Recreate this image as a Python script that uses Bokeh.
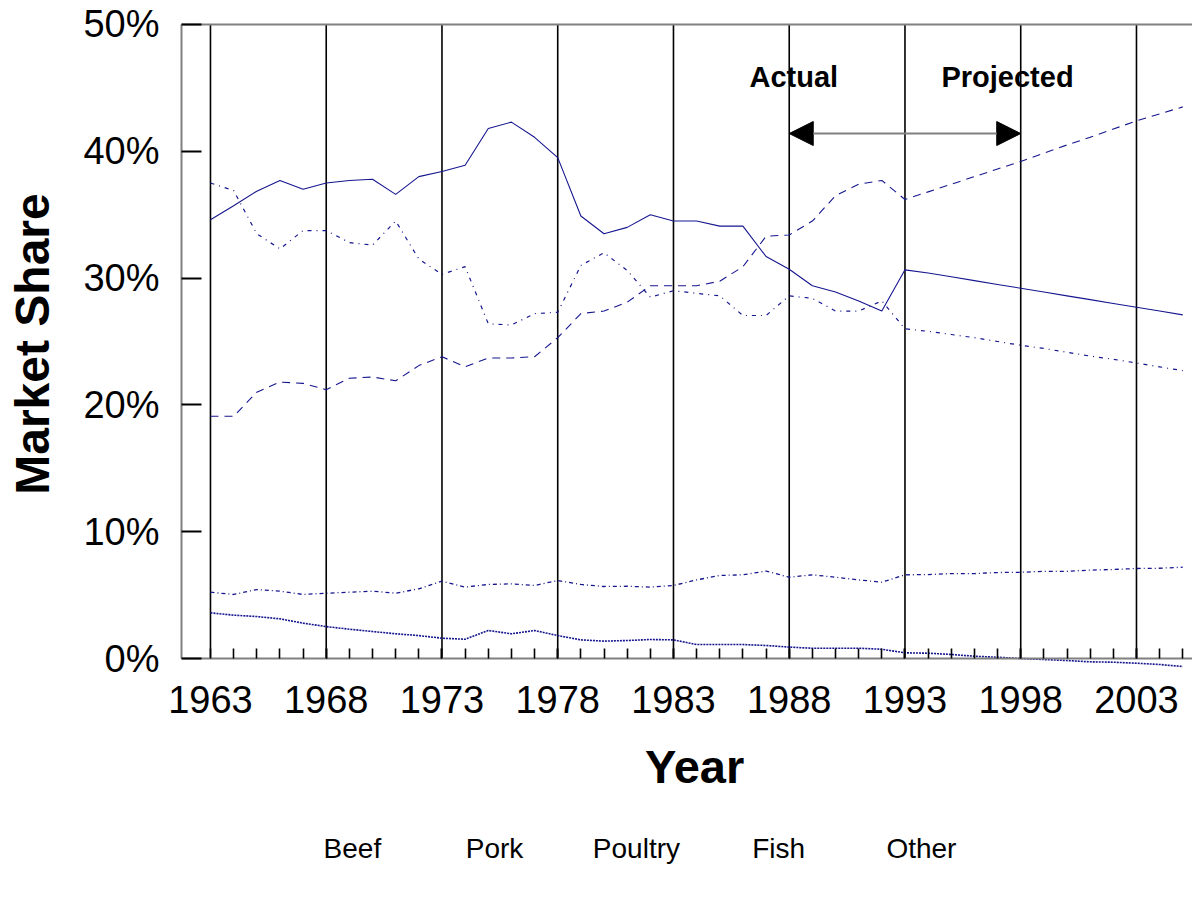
import math
from bokeh.plotting import figure
from bokeh.models import (LinearAxis, FixedTicker, PrintfTickFormatter, Range1d,
                          Arrow, NormalHead, Label, ColumnDataSource)
from bokeh.embed import file_html
from bokeh.resources import INLINE

# ---------------- data ----------------
years = list(range(1963, 2006))
beef = [34.6, 35.7, 36.85, 37.7, 37.0, 37.5, 37.7, 37.8, 36.6, 38.0, 38.4, 38.9, 41.8, 42.3,
        41.1, 39.5, 34.9, 33.5, 34.0, 35.0, 34.5, 34.5, 34.1, 34.1, 31.7, 30.7, 29.4, 28.9,
        28.2, 27.4, 30.65, 30.4, 30.1, 29.8, 29.5, 29.2, 28.9, 28.6, 28.3, 28.0, 27.7, 27.4, 27.1]
pork = [37.5, 36.9, 33.5, 32.3, 33.75, 33.75, 32.8, 32.6, 34.5, 31.5, 30.3, 30.9, 26.4, 26.3,
        27.2, 27.3, 31.0, 32.0, 30.6, 28.5, 29.0, 28.8, 28.6, 27.05, 27.05, 28.6, 28.4, 27.4,
        27.4, 28.2, 26.0, 25.8, 25.55, 25.3, 25.0, 24.7, 24.45, 24.15, 23.85, 23.6, 23.3, 23.0, 22.7]
poultry = [19.1, 19.1, 21.0, 21.8, 21.7, 21.2, 22.1, 22.2, 21.9, 23.1, 23.8, 23.0, 23.7, 23.7,
           23.8, 25.3, 27.2, 27.4, 28.1, 29.4, 29.4, 29.4, 29.75, 30.9, 33.3, 33.4, 34.5, 36.5,
           37.4, 37.7, 36.2, 36.8, 37.4, 38.0, 38.6, 39.2, 39.85, 40.5, 41.1, 41.75, 42.4, 42.95, 43.5]
fish = [5.23, 5.05, 5.44, 5.31, 5.05, 5.15, 5.23, 5.31, 5.15, 5.5, 6.1, 5.63, 5.84, 5.89, 5.76,
        6.15, 5.84, 5.68, 5.7, 5.63, 5.76, 6.2, 6.55, 6.6, 6.9, 6.41, 6.6, 6.41, 6.2, 6.02, 6.6,
        6.62, 6.7, 6.7, 6.78, 6.8, 6.88, 6.88, 6.97, 7.02, 7.1, 7.12, 7.2]
other = [3.6, 3.42, 3.31, 3.13, 2.79, 2.52, 2.31, 2.13, 1.95, 1.81, 1.6, 1.52, 2.21, 1.95, 2.21,
         1.81, 1.47, 1.37, 1.42, 1.5, 1.47, 1.1, 1.1, 1.1, 1.03, 0.9, 0.81, 0.81, 0.81, 0.73,
         0.45, 0.42, 0.32, 0.18, 0.1, 0.0, -0.08, -0.16, -0.26, -0.29, -0.37, -0.47, -0.63]

series_names = ["Beef", "Pork", "Poultry", "Fish", "Other"]
x_major_ticks = [1963, 1968, 1973, 1978, 1983, 1988, 1993, 1998, 2003]
x_minor_ticks = list(range(1964, 2006))
y_ticks = [0, 10, 20, 30, 40, 50]
actual_end_year = 1988
projection_end_year = 1998

# ---------------- layout constants (data coordinates of the plotting box) ----------------
X_LEFT, X_RIGHT = 1953.93, 2005.42      # whole canvas, horizontally
Y_BOTTOM, Y_TOP = -17.82, 51.89         # whole canvas, vertically
AXIS_X = 1961.75                         # where the value axis sits
FONT = "Liberation Sans"
LINE = "#16168f"

p = figure(width=1192, height=884, output_backend="svg", toolbar_location=None,
           x_axis_location=None, y_axis_location=None,
           x_range=Range1d(X_LEFT, X_RIGHT), y_range=Range1d(Y_BOTTOM, Y_TOP),
           min_border=0, min_border_left=0, min_border_right=0, min_border_top=0, min_border_bottom=0)
p.outline_line_color = None
p.xgrid.visible = False
p.ygrid.visible = False
p.background_fill_color = "white"
p.border_fill_color = "white"

# vertical reference lines at the major year ticks
vl = ColumnDataSource(dict(x=x_major_ticks, y0=[y_ticks[0]] * len(x_major_ticks),
                           y1=[y_ticks[-1]] * len(x_major_ticks)))
p.segment(x0="x", x1="x", y0="y0", y1="y1", source=vl, line_color="black", line_width=1.6)

src = ColumnDataSource(dict(year=years, beef=beef, pork=pork, poultry=poultry, fish=fish, other=other))
p.line("year", "beef", source=src, line_color=LINE, line_width=1.1)
p.line("year", "pork", source=src, line_color=LINE, line_width=1.2, line_dash="4 5 1 5")
p.line("year", "poultry", source=src, line_color=LINE, line_width=1.1, line_dash="8 6")
p.line("year", "fish", source=src, line_color=LINE, line_width=1.3, line_dash="4 3 1 3")
p.line("year", "other", source=src, line_color=LINE, line_width=1.6, line_dash="2 1")

# bottom (year) axis
xaxis = LinearAxis(ticker=FixedTicker(ticks=x_major_ticks, minor_ticks=x_minor_ticks),
                   fixed_location=0, bounds=(AXIS_X, X_RIGHT))
xaxis.axis_line_color = "#808080"
xaxis.axis_line_width = 2
xaxis.major_tick_in = 10
xaxis.major_tick_out = 0
xaxis.minor_tick_in = 10
xaxis.minor_tick_out = 0
xaxis.major_tick_line_color = "black"
xaxis.minor_tick_line_color = "black"
xaxis.major_tick_line_width = 1.6
xaxis.minor_tick_line_width = 1.6
xaxis.major_label_text_font = FONT
xaxis.major_label_text_font_size = "38px"
xaxis.major_label_text_color = "black"
xaxis.major_label_standoff = 27
p.add_layout(xaxis, "below")

# top border
topaxis = LinearAxis(ticker=FixedTicker(ticks=[], minor_ticks=[]), fixed_location=y_ticks[-1],
                     bounds=(AXIS_X, X_RIGHT))
topaxis.axis_line_color = "#808080"
topaxis.axis_line_width = 2
topaxis.major_tick_line_color = None
topaxis.minor_tick_line_color = None
topaxis.major_label_text_font_size = "0px"
p.add_layout(topaxis, "above")

# value axis
yaxis = LinearAxis(ticker=FixedTicker(ticks=y_ticks, minor_ticks=[]),
                   formatter=PrintfTickFormatter(format="%d%%"), bounds=(0, 50),
                   fixed_location=AXIS_X)
yaxis.axis_line_color = "#808080"
yaxis.axis_line_width = 2
yaxis.major_tick_in = 20
yaxis.major_tick_out = 0
yaxis.minor_tick_line_color = None
yaxis.major_tick_line_color = "black"
yaxis.major_tick_line_width = 2
yaxis.major_label_text_font = FONT
yaxis.major_label_text_font_size = "38px"
yaxis.major_label_text_color = "black"
yaxis.major_label_standoff = 22
p.add_layout(yaxis, "left")

# axis titles
p.add_layout(Label(x=1983.91, y=-8.48, text="Year", text_align="center", text_baseline="middle",
                   text_font=FONT, text_font_size="47px", text_font_style="bold", text_color="black"))
p.add_layout(Label(x=1955.33, y=24.8, text="Market Share", angle=math.pi / 2,
                   text_align="center", text_baseline="middle",
                   text_font=FONT, text_font_size="48px", text_font_style="bold", text_color="black"))

# Actual / Projected annotation
arrow_y = 41.4
p.add_layout(Arrow(x_start=actual_end_year, x_end=projection_end_year, y_start=arrow_y, y_end=arrow_y,
                   line_color="#808080", line_width=2,
                   start=NormalHead(size=24, fill_color="black", line_color="black"),
                   end=NormalHead(size=24, fill_color="black", line_color="black")))
p.add_layout(Label(x=1988.2, y=45.86, text="Actual", text_align="center", text_baseline="middle",
                   text_font=FONT, text_font_size="29px", text_font_style="bold", text_color="black"))
p.add_layout(Label(x=1997.43, y=45.86, text="Projected", text_align="center", text_baseline="middle",
                   text_font=FONT, text_font_size="29px", text_font_style="bold", text_color="black"))

# legend (labels only, as in the reference)
legend_x = [1969.13, 1975.27, 1981.40, 1987.54, 1993.71]
for name, lx in zip(series_names, legend_x):
    p.add_layout(Label(x=lx, y=-14.98, text=name, text_align="center", text_baseline="middle",
                       text_font=FONT, text_font_size="28px", text_color="black"))

open("out.html", "w").write(file_html(p, INLINE))
